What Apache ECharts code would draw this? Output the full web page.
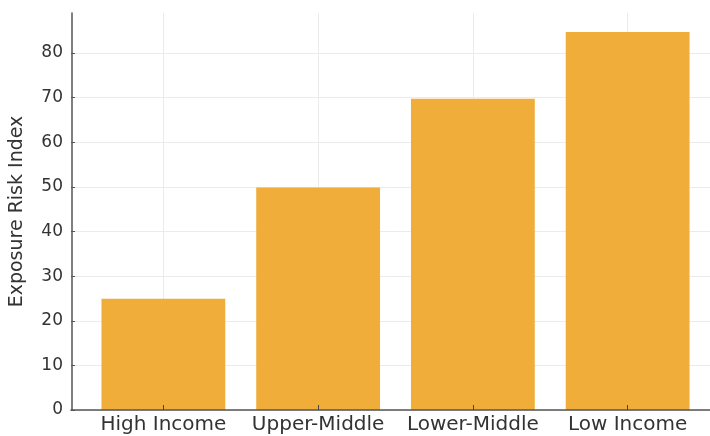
<!DOCTYPE html>
<html>
<head>
<meta charset="utf-8">
<script src="https://cdn.jsdelivr.net/npm/echarts@6/dist/echarts.min.js"></script>
<style>html,body{margin:0;padding:0;background:#fff}#c{width:710px;height:436px}</style>
</head>
<body>
<div id="c"></div>
<script>
const categories = ['High Income', 'Upper-Middle', 'Lower-Middle', 'Low Income'];
const riskIndex = [25, 50, 70, 85];
const yTickMax = 80;
const yTitle = 'Exposure Risk Index';

const chart = echarts.init(document.getElementById('c'), null, {renderer: 'canvas'});
const font = 'DejaVu Sans';
const axisColor = '#555';
const gridColor = '#ebebeb';
chart.setOption({
  animation: false,
  grid: [
    {left: 85, top: 13, bottom: 26, width: 620},
    {left: 71, top: 53, bottom: 26, width: 647}
  ],
  xAxis: [
    {
      type: 'category', gridIndex: 0, position: 'bottom', data: categories, boundaryGap: true, z: 0,
      axisLine: {show: false},
      axisTick: {show: false},
      splitLine: {show: true, interval: 0, alignWithLabel: true, lineStyle: {color: gridColor, width: 1}},
      axisLabel: {interval: 0, hideOverlap: false, color: '#333', fontFamily: font, fontSize: 20, margin: 5}
    },
    {
      type: 'value', gridIndex: 1, position: 'bottom', min: 0, max: 1, z: 10,
      axisLine: {show: true, onZero: false, lineStyle: {color: axisColor, width: 1.5}},
      axisTick: {show: false}, axisLabel: {show: false}, splitLine: {show: false}
    },
    {
      type: 'category', gridIndex: 0, position: 'bottom', data: categories, boundaryGap: true, z: 10,
      axisLine: {show: false, onZero: false},
      axisTick: {show: true, interval: 0, inside: true, length: 5, alignWithLabel: true, lineStyle: {color: '#444', width: 1}},
      splitLine: {show: false}, axisLabel: {show: false}
    }
  ],
  yAxis: [
    {
      type: 'value', gridIndex: 0, min: 0, max: 89.25, offset: 14, z: 10,
      name: yTitle, nameLocation: 'middle', nameGap: 45,
      nameTextStyle: {color: '#333', fontFamily: font, fontSize: 19},
      axisLine: {show: true, onZero: false, lineStyle: {color: axisColor, width: 1.5}},
      axisTick: {show: false}, axisLabel: {show: false}, splitLine: {show: false}
    },
    {
      type: 'value', gridIndex: 1, min: 0, max: yTickMax, interval: 10, z: 0,
      axisLine: {show: false, onZero: false},
      axisTick: {show: true, inside: true, length: 4, lineStyle: {color: axisColor}},
      splitLine: {show: true, lineStyle: {color: gridColor, width: 1}},
      axisLabel: {color: '#333', fontFamily: font, fontSize: 17, margin: 8}
    }
  ],
  series: [{
    type: 'bar', xAxisIndex: 0, yAxisIndex: 0, z: 2,
    barWidth: '80%',
    itemStyle: {color: '#f0ad3a'},
    data: riskIndex
  }]
});
</script>
</body>
</html>
